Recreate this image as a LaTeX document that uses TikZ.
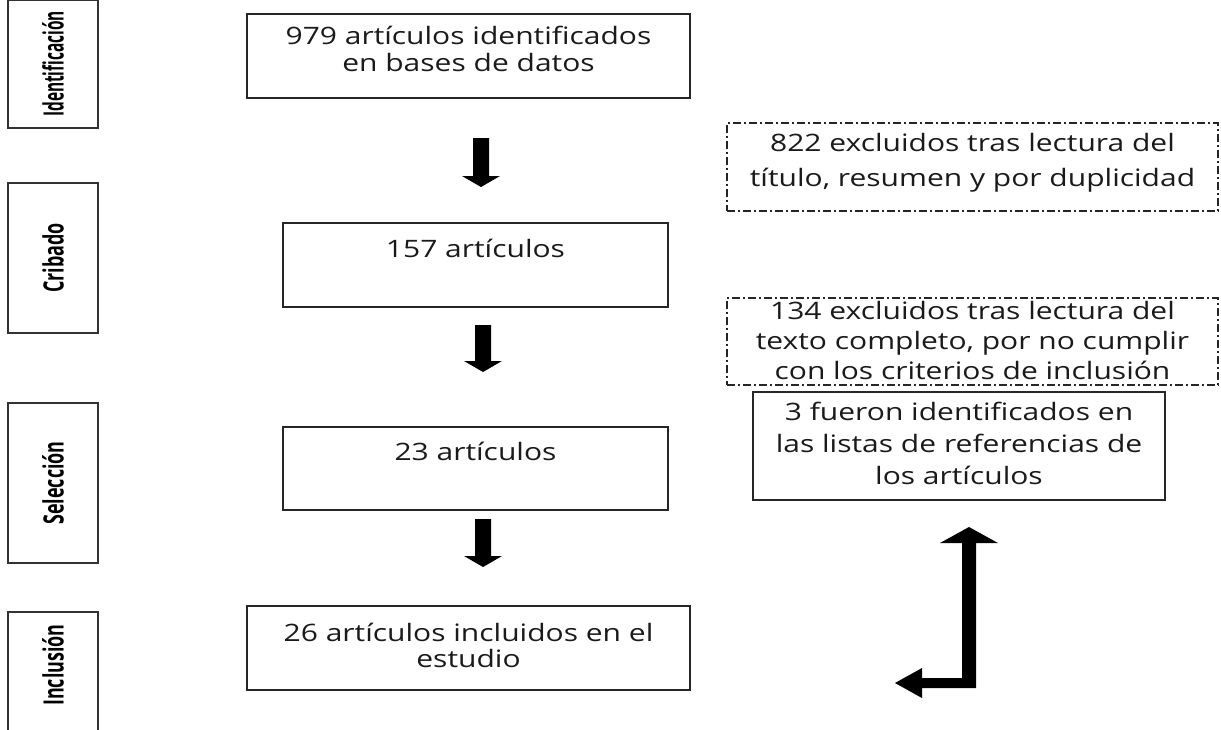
\documentclass[tikz,border=0pt]{standalone}
\usepackage{fontspec}
\setmainfont{Open Sans}[FakeStretch=1.25]
\newfontfamily\labfont{Open Sans}[FakeStretch=0.64]
\newfontfamily\labfontn{Open Sans}[FakeStretch=0.55]
\definecolor{txtc}{HTML}{1A1A1A}
\begin{document}
\begin{tikzpicture}[x=1pt,y=-1pt,
  box/.style={draw=black!85, line width=2pt, inner sep=0pt, outer sep=0pt},
  dbox/.style={draw=black!85, line width=2pt, inner sep=0pt, outer sep=0pt,
    dash pattern=on 8pt off 3pt on 2pt off 3pt},
  lbox/.style={draw=black!80, line width=1.8pt, inner sep=0pt, outer sep=0pt, minimum width=90pt},
  lab/.style={rotate=90, font=\labfont\bfseries\fontsize{28}{32}\selectfont, text=black},
  labn/.style={rotate=90, font=\labfontn\bfseries\fontsize{28}{32}\selectfont, text=black},
  txt/.style={align=center, text=txtc, inner sep=0pt},
  blockarrow/.style={fill=black}]
\useasboundingbox (0,0) rectangle (1221,729);
% stage labels
\node[lbox, minimum height=128pt] (L1) at (53,64) {};
\node[labn] (l1) at (L1.center) {Identificación};
\node[lbox, minimum height=150pt] (L2) at (53,258) {};
\node[lab] (l2) at (L2.center) {Cribado};
\node[lbox, minimum height=160pt] (L3) at (53,483) {};
\node[lab] (l3) at (L3.center) {Selección};
\node[lbox, minimum height=140pt] (L4) at (53,682) {};
\node[lab] (l4) at (53,665) {Inclusión};
% main boxes
\node[box, minimum width=443pt, minimum height=84pt] (b1) at (468.5,56) {};
\node[txt, font=\fontsize{24}{27}\selectfont] (t1) at (468.5,49) {979 artículos identificados\\en bases de datos};
\node[box, minimum width=385pt, minimum height=84pt] (b2) at (475.5,265) {};
\node[txt, font=\fontsize{24}{27}\selectfont] (t2) at (475.5,248) {157 artículos};
\node[box, minimum width=385pt, minimum height=83pt] (b3) at (475.5,468.5) {};
\node[txt, font=\fontsize{24}{27}\selectfont] (t3) at (475.5,451) {23 artículos};
\node[box, minimum width=443pt, minimum height=84pt] (b4) at (468.5,648) {};
\node[txt, font=\fontsize{24}{26}\selectfont] (t4) at (468.5,645) {26 artículos incluidos en el\\estudio};
% right boxes
\node[dbox, minimum width=491pt, minimum height=88pt] (d1) at (972.5,167) {};
\node[txt, font=\fontsize{24}{35}\selectfont] (td1) at (972.5,163) {822 excluidos tras lectura del\\título, resumen y por duplicidad};
\node[dbox, minimum width=491pt, minimum height=87pt] (d2) at (972.5,341.5) {};
\node[txt, font=\fontsize{24}{30}\selectfont] (td2) at (972.5,340) {134 excluidos tras lectura del\\texto completo, por no cumplir\\con los criterios de inclusión};
\node[box, minimum width=412pt, minimum height=108pt] (r3) at (959,446) {};
\node[txt, font=\fontsize{24}{32}\selectfont] (tr3) at (959,443) {3 fueron identificados en\\las listas de referencias de\\los artículos};
% block arrows
\fill[blockarrow] (473,138) -- (489,138) -- (489,176) -- (500,176) -- (481,187) -- (462,176) -- (473,176) -- cycle;
\fill[blockarrow] (475,325) -- (491,325) -- (491,361) -- (502,361) -- (483,372) -- (464,361) -- (475,361) -- cycle;
\fill[blockarrow] (475,519) -- (491,519) -- (491,556) -- (502,556) -- (483,567) -- (464,556) -- (475,556) -- cycle;
% bent arrow
\fill[blockarrow] (969,527) -- (998,543) -- (976,543) -- (976,688) -- (922,688) -- (922,698) -- (895,683) -- (922,668) -- (922,678) -- (962,678) -- (962,543) -- (940,543) -- cycle;
\end{tikzpicture}
\end{document}
